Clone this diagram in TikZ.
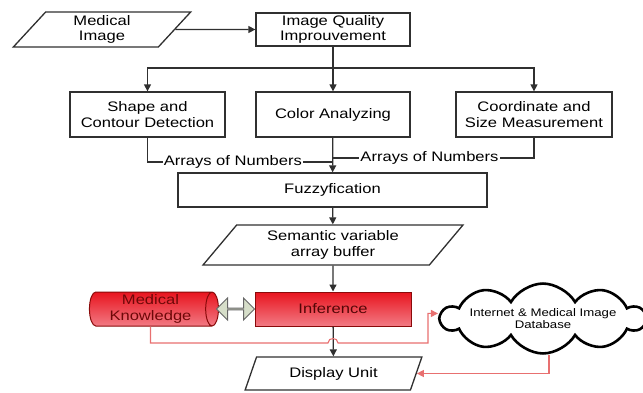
\documentclass[tikz,border=0pt]{standalone}
\usepackage{fontspec}
\setmainfont{Liberation Sans}[FakeStretch=1.2]
\usetikzlibrary{shapes.geometric,shapes.symbols,shapes.arrows,arrows.meta}
\definecolor{ln}{HTML}{303030}
\definecolor{redl}{HTML}{E87070}
\definecolor{rA}{HTML}{E8141E}
\definecolor{rB}{HTML}{F27A84}
\definecolor{rD}{HTML}{8A0A0A}
\definecolor{gfill}{HTML}{D6DEC9}
\begin{document}
\begin{tikzpicture}[x=1pt,y=-1pt,
  font=\fontsize{13.8}{15.5}\selectfont,
  box/.style={draw=ln, line width=1.3pt, fill=white, align=center, inner sep=0pt},
  paraA/.style={box, trapezium, trapezium stretches=true, trapezium left angle=60, trapezium right angle=120},
  paraB/.style={box, trapezium, trapezium stretches=true, trapezium left angle=51, trapezium right angle=129},
  paraC/.style={box, trapezium, trapezium stretches=true, trapezium left angle=63, trapezium right angle=117},
  redbox/.style={draw=rD, line width=1pt, top color=rA, bottom color=rB, align=center, inner sep=0pt},
  conn/.style={draw=ln, line width=1.3pt},
  arr/.style={conn, -{Triangle[length=7pt,width=7pt]}},
  rl/.style={draw=redl, line width=1.1pt},
  rarr/.style={rl, -{Triangle[length=7pt,width=7pt]}},
  lbl/.style={fill=white, inner sep=1pt}]
\fill[white] (0,0) rectangle (643,392);
\useasboundingbox (0,0) rectangle (643,392);

\node[paraA, minimum width=178pt, minimum height=35pt] (mi) at (102,29.5) {Medical\\Image};
\node[box, minimum width=154pt, minimum height=33pt] (iq) at (333,29.5) {Image Quality\\Improuvement};
\node[box, minimum width=155pt, minimum height=45pt] (sc) at (147.5,114.5) {Shape and\\Contour Detection};
\node[box, minimum width=154pt, minimum height=45pt] (ca) at (333,114.5) {Color Analyzing};
\node[box, minimum width=156pt, minimum height=45pt] (cm) at (534,114.5) {Coordinate and\\Size Measurement};
\node[box, minimum width=309pt, minimum height=34pt] (fz) at (332.5,190) {Fuzzyfication};
\node[paraB, minimum width=260pt, minimum height=40pt] (sv) at (333,245) {Semantic variable\\array buffer};
\node[cylinder, draw=rD, line width=1pt, top color=rA, bottom color=rB, shape aspect=0.45,
      minimum width=34pt, minimum height=129pt, align=center, inner sep=0pt, text=rD!80!black] (mk) at (150.5,309) {Medical\\Knowledge};
\node[double arrow, draw=gray!80!black, fill=gfill, line width=1pt, minimum height=38pt, minimum width=22pt,
      double arrow head extend=6.5pt, inner sep=0pt] (da) at (235.5,309) {};
\node[redbox, minimum width=156pt, minimum height=34pt, text=rD!60!black] (inf) at (333,309) {Inference};
\node[cloud, draw=black, fill=white, line width=2.6pt, cloud puffs=10, cloud puff arc=120, aspect=6,
      minimum width=170pt, inner sep=0pt, align=center,
      font=\fontsize{11}{11.5}\selectfont] (cl) at (543,318.5) {Internet \& Medical Image\\Database};
\node[paraC, minimum width=177pt, minimum height=33pt] (du) at (333.5,373.5) {Display Unit};

\coordinate (j) at (333,68);
\coordinate (al) at (333,162);
\coordinate (ar) at (333,158);
\coordinate (h1) at (328,343);
\coordinate (h2) at (338,343);
\coordinate (rb) at (428,343);

\draw[arr] (mi) -- (iq);
\draw[conn] (iq) -- (j);
\draw[arr] (j) -| (sc);
\draw[arr] (j) -- (ca);
\draw[arr] (j) -| (cm);
\draw[conn] (sc) |- node[lbl, pos=0.73] {Arrays of Numbers} (al);
\draw[conn] (cm) |- node[lbl, pos=0.76] {Arrays of Numbers} (ar);
\draw[arr] (ca) -- (fz);
\draw[arr] (fz) -- (sv);
\draw[arr] (sv) -- (inf);
\draw[arr] (inf) -- (du);

\draw[rarr] (mk.south) |- (h1) .. controls (328,337) and (338,337) .. (h2) -- (rb) |- ([yshift=5pt]cl.west);
\draw[rarr] ([xshift=6pt]cl.south) |- (du.east);
\end{tikzpicture}
\end{document}
